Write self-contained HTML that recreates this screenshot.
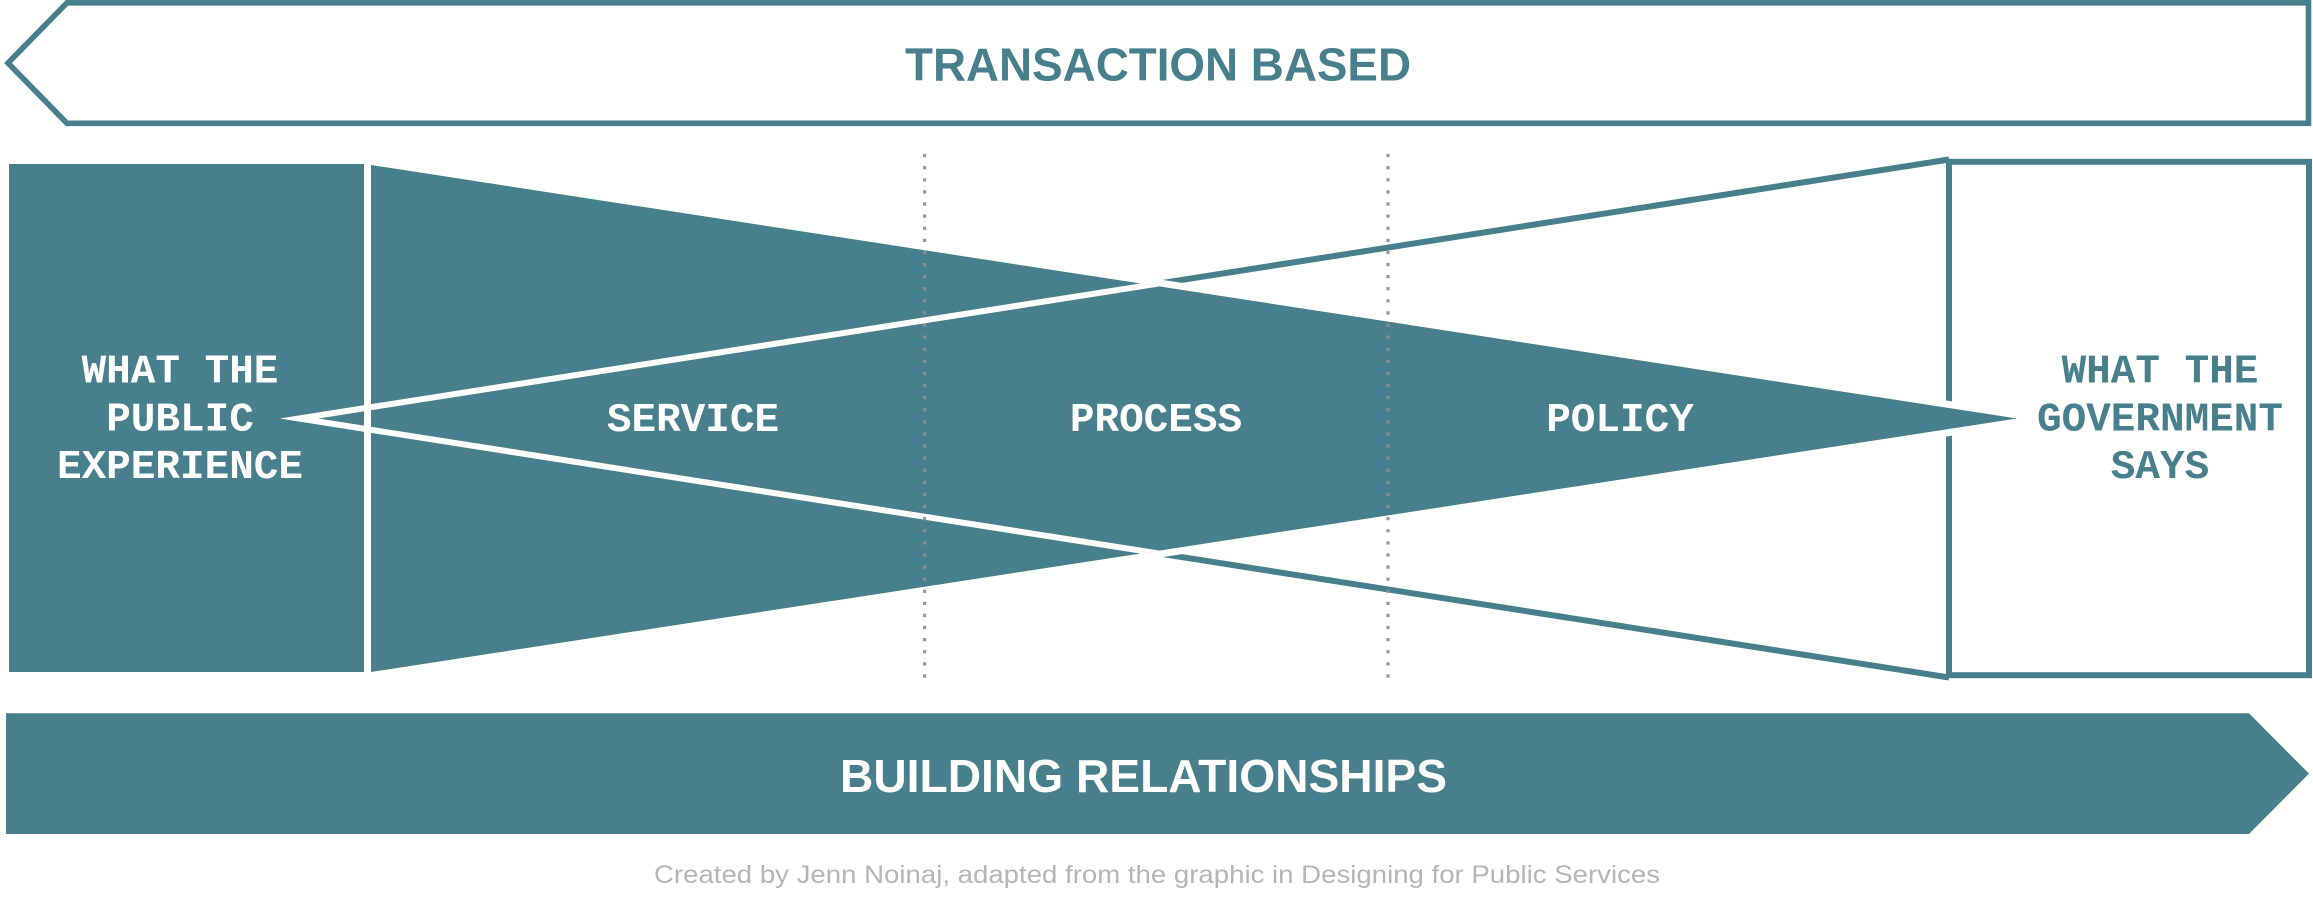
<!DOCTYPE html>
<html>
<head>
<meta charset="utf-8">
<style>
  html, body { margin: 0; padding: 0; background: #ffffff; }
  svg { display: block; }
  .mono { font-family: "Liberation Mono", "DejaVu Sans Mono", monospace; font-weight: bold; font-size: 41px; }
  .sans { font-family: "Liberation Sans", "DejaVu Sans", sans-serif; font-weight: bold; font-size: 46px; }
  .cap { font-family: "Liberation Sans", "DejaVu Sans", sans-serif; font-size: 25px; }
</style>
</head>
<body>
<svg width="2313" height="924" viewBox="0 0 2313 924" xmlns="http://www.w3.org/2000/svg">
  <defs>
    <clipPath id="tealArea">
      <polygon points="371,165 2017,418.5 371,672"/>
      <rect x="0" y="150" width="372" height="540"/>
    </clipPath>
  </defs>

  <rect x="0" y="0" width="2313" height="924" fill="#ffffff"/>

  <!-- Top arrow (outlined, pointing left) -->
  <polygon points="67,2.8 2308.5,2.8 2308.5,123.3 67,123.3 8,63" fill="#ffffff" stroke="#477f8c" stroke-width="5.6" stroke-linejoin="miter"/>
  <text class="sans" x="905" y="80.5" fill="#477f8c" textLength="506" lengthAdjust="spacingAndGlyphs">TRANSACTION BASED</text>

  <!-- Right box -->
  <rect x="1949" y="161.8" width="360" height="513.4" fill="#ffffff" stroke="#477f8c" stroke-width="6"/>

  <!-- Teal "<" lines (visible over white) -->
  <polyline points="1949,159.5 299,418.5 1949,677.5" fill="none" stroke="#477f8c" stroke-width="6" stroke-linejoin="miter" stroke-miterlimit="12"/>

  <!-- Left box -->
  <rect x="9" y="164" width="355" height="508" fill="#477f8c"/>

  <!-- Teal converging shape with white outline -->
  <polygon points="371,165 2017,418.5 371,672" fill="#477f8c" stroke="#ffffff" stroke-width="14" stroke-linejoin="miter" paint-order="stroke"/>

  <!-- White "<" lines over teal -->
  <g clip-path="url(#tealArea)">
    <polyline points="1949,159.5 299,418.5 1949,677.5" fill="none" stroke="#ffffff" stroke-width="6" stroke-linejoin="miter" stroke-miterlimit="12"/>
  </g>

  <!-- Dotted dividers -->
  <line x1="924.6" y1="154" x2="924.6" y2="684" stroke="#8f8f8f" stroke-opacity="0.9" stroke-width="3.3" stroke-dasharray="3.3 8.8"/>
  <line x1="1388" y1="154" x2="1388" y2="684" stroke="#8f8f8f" stroke-opacity="0.9" stroke-width="3.3" stroke-dasharray="3.3 8.8"/>

  <!-- Left box text -->
  <text class="mono" fill="#ffffff" text-anchor="middle" x="180" y="382.5">WHAT THE</text>
  <text class="mono" fill="#ffffff" text-anchor="middle" x="180" y="430.5">PUBLIC</text>
  <text class="mono" fill="#ffffff" text-anchor="middle" x="180" y="478">EXPERIENCE</text>

  <!-- Middle labels -->
  <text class="mono" fill="#ffffff" text-anchor="middle" x="693" y="431">SERVICE</text>
  <text class="mono" fill="#ffffff" text-anchor="middle" x="1156" y="431">PROCESS</text>
  <text class="mono" fill="#ffffff" text-anchor="middle" x="1620" y="431">POLICY</text>

  <!-- Right box text -->
  <text class="mono" fill="#477f8c" text-anchor="middle" x="2160" y="382.5">WHAT THE</text>
  <text class="mono" fill="#477f8c" text-anchor="middle" x="2160" y="430.5">GOVERNMENT</text>
  <text class="mono" fill="#477f8c" text-anchor="middle" x="2160" y="478">SAYS</text>

  <!-- Bottom arrow (filled, pointing right) -->
  <polygon points="6,713.3 2249,713.3 2309,773.6 2249,834 6,834" fill="#477f8c"/>
  <text class="sans" x="840" y="792" fill="#ffffff" textLength="607" lengthAdjust="spacingAndGlyphs">BUILDING RELATIONSHIPS</text>

  <!-- Caption -->
  <text class="cap" x="654" y="883" fill="#b5b5b5" textLength="1006" lengthAdjust="spacingAndGlyphs">Created by Jenn Noinaj, adapted from the graphic in Designing for Public Services</text>
</svg>
</body>
</html>
